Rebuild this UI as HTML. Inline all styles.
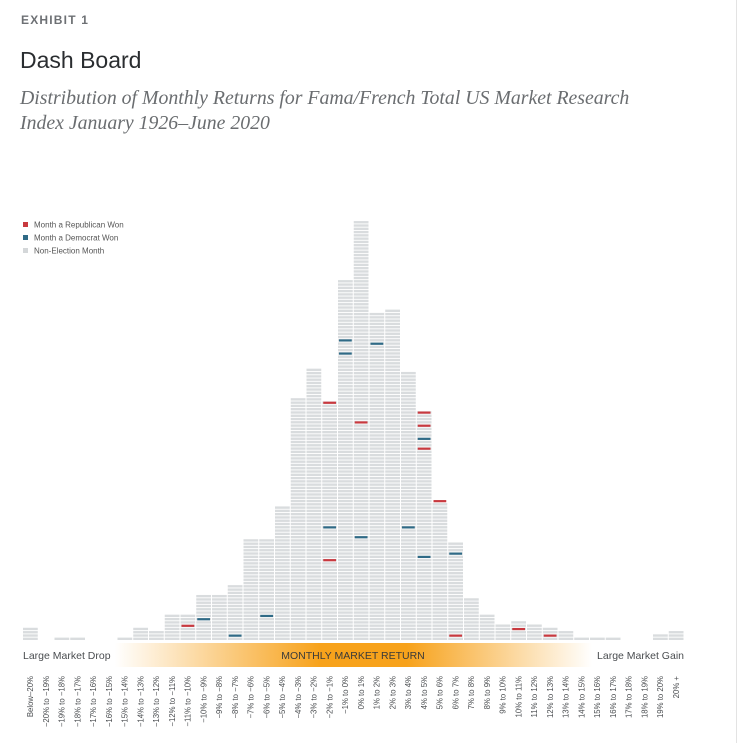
<!DOCTYPE html>
<html><head><meta charset="utf-8">
<style>
html,body{margin:0;padding:0;background:#fff;}
body{width:737px;height:743px;overflow:hidden;position:relative;font-family:"Liberation Sans",sans-serif;}
.ex{position:absolute;left:21px;top:13px;font-size:12px;font-weight:bold;letter-spacing:1.2px;color:#6d7074;}
.title{position:absolute;left:20px;top:47px;font-size:23px;color:#2a2d30;}
.sub{position:absolute;left:20px;top:86px;font-family:"Liberation Serif",serif;font-style:italic;font-size:19.8px;line-height:25px;color:#6a6d70;width:700px;white-space:nowrap;}
.rb{position:absolute;right:0;top:0;width:1px;height:743px;background:#e3e3e3;}
svg{position:absolute;left:0;top:0;}
</style></head><body>
<div class="ex">EXHIBIT 1</div>
<div class="title">Dash Board</div>
<div class="sub">Distribution of Monthly Returns for Fama/French Total US Market Research<br>Index January 1926–June 2020</div>
<div class="rb"></div>
<svg id="chart" width="737" height="743">
<defs>
<linearGradient id="og" x1="0" x2="1" y1="0" y2="0">
<stop offset="0" stop-color="#fff"/><stop offset="0.14" stop-color="#fff"/>
<stop offset="0.45" stop-color="#f7a21b"/><stop offset="0.58" stop-color="#f7a21b"/>
<stop offset="0.86" stop-color="#fff"/><stop offset="1" stop-color="#fff"/>
</linearGradient>
</defs>
<rect x="22" y="643" width="663" height="24" fill="url(#og)"/>
<text x="23" y="659" font-size="10.5" fill="#4a4d50">Large Market Drop</text>
<text x="353" y="659" font-size="10.5" fill="#3a3a3a" text-anchor="middle">MONTHLY MARKET RETURN</text>
<text x="684" y="659" font-size="10.5" fill="#4a4d50" text-anchor="end">Large Market Gain</text>
<g>
<rect x="23" y="222" width="5" height="5" fill="#c8393f"/>
<text x="34" y="227.5" font-size="8" fill="#555">Month a Republican Won</text>
<rect x="23" y="235" width="5" height="5" fill="#2f6a86"/>
<text x="34" y="240.5" font-size="8" fill="#555">Month a Democrat Won</text>
<rect x="23" y="248" width="5" height="5" fill="#d4d7d9"/>
<text x="34" y="253.5" font-size="8" fill="#555">Non-Election Month</text>
</g>
<g id="bars"></g>
<g id="marks"></g>
<g id="labels"></g>
</svg>
<script>
const categories = ["Below\u201320%","\u221220% to \u221219%","\u221219% to \u221218%","\u221218% to \u221217%","\u221217% to \u221216%","\u221216% to \u221215%","\u221215% to \u221214%","\u221214% to \u221213%","\u221213% to \u221212%","\u221212% to \u221211%","\u221211% to \u221210%","\u221210% to \u22129%","\u22129% to \u22128%","\u22128% to \u22127%","\u22127% to \u22126%","\u22126% to \u22125%","\u22125% to \u22124%","\u22124% to \u22123%","\u22123% to \u22122%","\u22122% to \u22121%","\u22121% to 0%","0% to 1%","1% to 2%","2% to 3%","3% to 4%","4% to 5%","5% to 6%","6% to 7%","7% to 8%","8% to 9%","9% to 10%","10% to 11%","11% to 12%","12% to 13%","13% to 14%","14% to 15%","15% to 16%","16% to 17%","17% to 18%","18% to 19%","19% to 20%","20% +"];
const monthCounts = [4,0,1,1,0,0,1,4,3,8,8,14,14,17,31,31,41,74,83,73,110,128,100,101,82,70,42,30,13,8,5,6,5,4,3,1,1,1,0,0,2,3];
const republicanBins = [10,19,19,21,25,25,25,26,27,31,33];
const republicanRows = [4,72,24,66,69,65,58,42,1,3,1];
const democratBins = [11,13,15,19,21,20,20,22,24,25,25,27];
const democratRows = [6,1,7,34,31,91,87,90,34,61,25,26];

const X0 = 22.5, BW = 15.75, BASE = 640.5, P = 3.28;
const xScale = i => X0 + i * BW;
const yScale = r => BASE - (r + 1) * P;
const NS = "http://www.w3.org/2000/svg";
const bars = document.getElementById('bars');
const marks = document.getElementById('marks');
const labels = document.getElementById('labels');

monthCounts.forEach((c, i) => {
  const g = document.createElementNS(NS, 'g');
  
  
  for (let r = 0; r < c; r++) {
    const rc = document.createElementNS(NS, 'rect');
    rc.setAttribute('x', xScale(i) + 0.5);
    rc.setAttribute('y', yScale(r) + 0.4);
    rc.setAttribute('width', BW - 1);
    rc.setAttribute('height', P - 0.9);
    rc.setAttribute('fill', '#d9dcde');
    
    
    g.appendChild(rc);
  }
  bars.appendChild(g);
  const t = document.createElementNS(NS, 'text');
  const cx = xScale(i) + BW / 2 + 2.7;
  t.setAttribute('x', cx);
  t.setAttribute('y', 676);
  t.setAttribute('transform', 'rotate(-90 ' + cx + ' 676)');
  t.setAttribute('text-anchor', 'end');
  t.setAttribute('font-size', '7.8');
  t.setAttribute('fill', '#4a4d50');
  t.textContent = categories[i];
  
  
  labels.appendChild(t);
});

function drawMark(bin, row, color, name) {
  const m = document.createElementNS(NS, 'rect');
  m.setAttribute('x', xScale(bin) + 1.5);
  m.setAttribute('y', yScale(row) + 0.6);
  m.setAttribute('width', BW - 3);
  m.setAttribute('height', 2.2);
  m.setAttribute('fill', color);
  
  
  marks.appendChild(m);
}
republicanBins.forEach((b, k) => drawMark(b, republicanRows[k], '#c8393f', 'republican-month'));
democratBins.forEach((b, k) => drawMark(b, democratRows[k], '#2f6a86', 'democrat-month'));
</script>
</body></html>
